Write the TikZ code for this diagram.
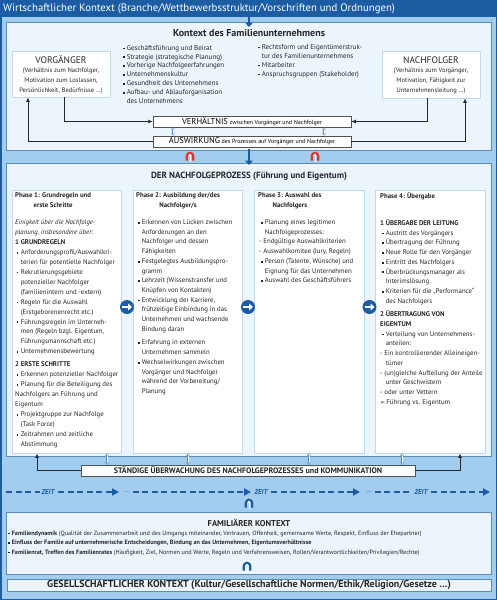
\documentclass[tikz,border=0pt]{standalone}
\usepackage{fontspec}
\setmainfont{PT Sans}
\newfontfamily\dejavu{DejaVu Sans}
\usetikzlibrary{arrows.meta}
\definecolor{dblue}{HTML}{1B5CA3}
\definecolor{bgblue}{HTML}{A2CDEE}
\definecolor{lfill}{HTML}{EDF5FC}
\definecolor{bord}{HTML}{5E8BB5}
\definecolor{pbord}{HTML}{C2DAEE}
\definecolor{redarr}{HTML}{E2332B}
\definecolor{conngray}{HTML}{262626}
\definecolor{txtgray}{HTML}{262626}
\newcommand\bul{\hspace*{1.5pt}\raisebox{0.8pt}{\rule{1.8pt}{1.8pt}}\hspace*{2.3pt}}
\newcommand\ind{\hspace*{5.6pt}}
\newcommand\redarch[2]{%
  \draw[redarr, line width=2.2pt] (#1-3.2,#2+4.5) -- (#1-3.2,#2) arc[start angle=180,end angle=360,radius=3.2] -- (#1+3.2,#2+4.5);
  \draw[white, line width=1pt, -{Triangle[length=2.4pt,width=3pt]}] (#1,#2+5.5) -- (#1,#2-2.5);}
\newcommand\bluearch[2]{%
  \draw[dblue, line width=2.2pt] (#1-3.2,#2+4.5) -- (#1-3.2,#2) arc[start angle=180,end angle=360,radius=3.2] -- (#1+3.2,#2+4.5);
  \draw[white, line width=1pt, -{Triangle[length=2.4pt,width=3pt]}] (#1,#2+5.5) -- (#1,#2-2.5);}
\tikzset{
  ctxbox/.style={draw=bord, fill=lfill, line width=0.8pt, minimum width=485pt, inner sep=0},
  personbox/.style={draw=pbord, fill=white, line width=0.8pt, minimum width=98pt, minimum height=46pt, inner sep=0},
  phasebox/.style={draw=pbord, fill=white, line width=0.8pt, minimum width=109pt, minimum height=263pt, inner sep=0},
  relbox/.style={draw=conngray!80, fill=white, line width=0.5pt, minimum height=11pt, inner sep=0},
  connline/.style={draw=conngray, line width=1pt, -{Latex[length=4.5pt,width=4pt]}},
  dbl/.style={draw=bord, double=white, double distance=0.9pt, line width=0.35pt, {Implies}-{Implies}},
  txt/.style={inner sep=0, text=txtgray, font=\fontsize{6.8}{9.7}\selectfont, align=left, anchor=north west},
  head/.style={inner sep=0, text=txtgray, font=\bfseries\fontsize{6.8}{10}\selectfont, align=center, anchor=north west},
  circarr/.style={circle, fill=dblue, minimum size=14pt, inner sep=0},
  zeitline/.style={dblue, line width=1.8pt, dash pattern=on 6pt off 3.5pt},
  zeittip/.style={zeitline, -{Triangle[length=7pt,width=7pt]}},
  zeitlab/.style={inner sep=1.5pt, text=dblue, font=\bfseries\itshape\fontsize{7}{8}\selectfont},
  downarr/.style={draw=dblue, line width=2.8pt, -{Triangle[length=4.5pt,width=8pt]}},
}
\begin{document}
\begin{tikzpicture}[x=1pt,y=-1pt]
\useasboundingbox (0,0) rectangle (497,600);
% background
\fill[bgblue] (0,0) rectangle (497,600);
\fill[dblue] (0,0) rectangle (497,17);
\draw[dblue, line width=1.5pt] (0.75,0.75) rectangle (496.25,599.25);
\node[anchor=west, inner sep=0, text=white, font=\fontsize{10.8}{12}\selectfont] (wk) at (3,8.5)
  {Wirtschaftlicher Kontext (Branche/Wettbewerbsstruktur/Vorschriften und Ordnungen)};

% ---------- Kontext des Familienunternehmens
\node[ctxbox, minimum height=128pt] (ctx) at (248.5,86) {};
\node[inner sep=0, text=txtgray, font=\bfseries\fontsize{10}{12}\selectfont] (ctxt) at (249,33) {Kontext des Familienunternehmens};

\node[personbox] (vg) at (61,74) {};
\node[inner sep=0, text=txtgray, font=\fontsize{9.5}{11}\selectfont] (vgt) at (61,60) {VORGÄNGER};
\node[inner sep=0, text=txtgray, font=\fontsize{6.5}{10}\selectfont, align=center, anchor=north] (vgs) at (61,67.5)
  {(Verhältnis zum Nachfolger,\\Motivation zum Loslassen,\\Persönlichkeit, Bedürfnisse …)};

\node[personbox, minimum height=47pt] (nf) at (431,74.5) {};
\node[inner sep=0, text=txtgray, font=\fontsize{9.5}{11}\selectfont] (nft) at (431,60) {NACHFOLGER};
\node[inner sep=0, text=txtgray, font=\fontsize{6.5}{10}\selectfont, align=center, anchor=north] (nfs) at (431,67.5)
  {(Verhältnis zum Vorgänger,\\Motivation, Fähigkeit zur\\Unternehmensleitung …)};

\node[txt, font=\fontsize{7}{8.9}\selectfont] (lst1) at (121,45)
  {\bul Geschäftsführung und Beirat\\
   \bul Strategie (strategische Planung)\\
   \bul Vorherige Nachfolgeerfahrungen\\
   \bul Unternehmenskultur\\
   \bul Gesundheit des Unternehmens\\
   \bul Aufbau- und Ablauforganisation\\
   \ind des Unternehmens};
\node[txt, font=\fontsize{7}{9}\selectfont] (lst2) at (256,44)
  {\bul Rechtsform und Eigentümerstruk-\\
   \ind tur des Familienunternehmens\\
   \bul Mitarbeiter\\
   \bul Anspruchsgruppen (Stakeholder)};

\node[relbox, minimum width=198pt] (verh) at (252,121.5)
  {{\fontsize{8.5}{10}\selectfont VERHÄLTNIS}{\fontsize{6}{7}\selectfont\ zwischen Vorgänger und Nachfolger}};
\node[relbox, minimum width=198pt] (ausw) at (252,141.5)
  {{\fontsize{8.5}{10}\selectfont AUSWIRKUNG}{\fontsize{6}{7}\selectfont\ des Prozesses auf Vorgänger und Nachfolger}};
\draw[dbl] ([xshift=-79pt]verh.south) -- ([xshift=-79pt]ausw.north);
\draw[dbl] ([xshift=72pt]verh.south) -- ([xshift=72pt]ausw.north);

\draw[connline] ([xshift=3pt]vg.south) |- (verh.west);
\draw[connline] (ausw.west) -| ([xshift=-33pt]vg.south);
\draw[connline] ([xshift=-4pt]nf.south) |- (verh.east);
\draw[connline] (ausw.east) -| ([xshift=34pt]nf.south);

% ---------- Nachfolgeprozess
\node[ctxbox, minimum height=293pt] (proc) at (248.5,309.5) {};
\redarch{190}{156}
\redarch{315}{156}
\node[inner sep=0, text=txtgray, font=\bfseries\fontsize{9}{11}\selectfont] (proct) at (249,176) {DER NACHFOLGEPROZESS (Führung und Eigentum)};

\node[phasebox] (p1) at (66.5,321.5) {};
\node[phasebox] (p2) at (187.5,321.5) {};
\node[phasebox, minimum width=110pt] (p3) at (309,321.5) {};
\node[phasebox, minimum width=110pt] (p4) at (430,321.5) {};

\node[circarr] (c12) at (127,307) {};
\node[circarr] (c23) at (248,307) {};
\node[circarr] (c34) at (369.5,307) {};
\foreach \c in {c12,c23,c34}
  \draw[white, line width=2pt, -{Triangle[length=4pt,width=7pt]}] ([xshift=-5pt]\c.center) -- ([xshift=5pt]\c.center);

\node[head] (h1) at (15,192.5) {Phase 1: Grundregeln und\\erste Schritte};
\node[head] (h2) at (136,192.5) {Phase 2: Ausbildung der/des\\Nachfolger/s};
\node[head] (h3) at (258,192.5) {Phase 3: Auswahl des\\Nachfolgers};
\node[head] (h4) at (380,192.5) {Phase 4: Übergabe};

\node[txt, font=\fontsize{6.8}{9.95}\selectfont] (t1) at (15,219.5)
  {\textit{Einigkeit über die Nachfolge-}\\
   \textit{planung, insbesondere über:}\\
   \textbf{1 GRUNDREGELN}\\
   \bul Anforderungsprofil/Auswahlkri-\\
   \ind terien für potentielle Nachfolger\\
   \bul Rekrutierungsgebiete\\
   \ind potenzieller Nachfolger\\
   \ind (familienintern und -extern)\\
   \bul Regeln für die Auswahl\\
   \ind (Erstgeborenenrecht etc.)\\
   \bul Führungsregeln im Unterneh-\\
   \ind men (Regeln bzgl. Eigentum,\\
   \ind Führungsmannschaft etc.)\\
   \bul Unternehmensbewertung\\[3pt]
   \textbf{2 ERSTE SCHRITTE}\\
   \bul Erkennen potenzieller Nachfolger\\
   \bul Planung für die Beteiligung des\\
   Nachfolgers an Führung und\\
   Eigentum\\
   \bul Projektgruppe zur Nachfolge\\
   \ind (Task Force)\\
   \bul Zeitrahmen und zeitliche\\
   \ind Abstimmung};

\node[txt] (t2) at (136,219.5)
  {\bul Erkennen von Lücken zwischen\\
   \ind Anforderungen an den\\
   \ind Nachfolger und dessen\\
   \ind Fähigkeiten\\
   \bul Festgelegtes Ausbildungspro-\\
   \ind gramm\\
   \bul Lehrzeit (Wissenstransfer und\\
   \ind Knüpfen von Kontakten)\\
   \bul Entwicklung der Karriere,\\
   \ind frühzeitige Einbindung in das\\
   \ind Unternehmen und wachsende\\
   \ind Bindung daran\\[4pt]
   \bul Erfahrung in externen\\
   \ind Unternehmen sammeln\\
   \bul Wechselwirkungen zwischen\\
   \ind Vorgänger und Nachfolger\\
   \ind während der Vorbereitung/\\
   \ind Planung};

\node[txt] (t3) at (259,219.5)
  {\bul Planung eines legitimen\\
   \ind Nachfolgeprozesses:\\
   - Endgültige Auswahlkriterien\\
   - Auswahlkomitee (Jury, Regeln)\\
   \bul Person (Talente, Wünsche) und\\
   \ind Eignung für das Unternehmen\\
   \bul Auswahl des Geschäftsführers};

\node[txt] (t4) at (380,219.5)
  {\textbf{1 ÜBERGABE DER LEITUNG}\\
   \bul Austritt des Vorgängers\\
   \bul Übertragung der Führung\\
   \bul Neue Rolle für den Vorgänger\\
   \bul Eintritt des Nachfolgers\\
   \bul Überbrückungsmanager als\\
   \ind Interimslösung\\
   \bul Kriterien für die „Performance“\\
   \ind des Nachfolgers\\[4pt]
   \textbf{2 ÜBERTRAGUNG VON}\\
   \textbf{EIGENTUM}\\
   \bul Verteilung von Unternehmens-\\
   \ind anteilen:\\
   - Ein kontrollierender Alleineigen-\\
   \ind tümer\\
   - (un)gleiche Aufteilung der Anteile\\
   \ind unter Geschwistern\\
   - oder unter Vettern\\
   {\dejavu\fontsize{6}{9}\selectfont ➢}\,Führung vs. Eigentum};

% ---------- Ständige Überwachung
\node[relbox, minimum width=334pt, text=txtgray, font=\bfseries\fontsize{8}{10}\selectfont] (st) at (248,470.5)
  {STÄNDIGE ÜBERWACHUNG DES NACHFOLGEPROZESSES und KOMMUNIKATION};
\draw[dbl] ([xshift=40.5pt]p1.south) -- ([xshift=40.5pt]p1.south |- st.north);
\draw[dbl] ([xshift=0.5pt]p2.south) -- ([xshift=0.5pt]p2.south |- st.north);
\draw[dbl] ([xshift=0pt]p3.south) -- ([xshift=0pt]p3.south |- st.north);
\draw[dbl] ([xshift=-28pt]p4.south) -- ([xshift=-28pt]p4.south |- st.north);
\draw[connline] (st.west) -| ([xshift=-29.5pt]p1.south);
\draw[connline] (st.east) -| ([xshift=30pt]p4.south);

% ---------- ZEIT
\node[zeitlab] (z1) at (48,492) {ZEIT};
\node[zeitlab] (z2) at (261,492) {ZEIT};
\node[zeitlab] (z3) at (421,492) {ZEIT};
\node[inner sep=1pt, text=dblue, font=\fontsize{7}{8}\selectfont] (d1) at (127,492) {…};
\node[inner sep=1pt, text=dblue, font=\fontsize{7}{8}\selectfont] (d2) at (369,492) {…};
\coordinate (zs) at (6,492);
\coordinate (a1) at (119,492);
\coordinate (a2) at (251,492);
\coordinate (a3) at (360,492);
\coordinate (a4) at (490,492);
\draw[zeitline] (zs) -- (z1.west);
\draw[zeittip] ([xshift=2pt]z1.east) -- (a1);
\draw[zeittip] ([xshift=2pt]d1.east) -- (a2);
\draw[zeittip] ([xshift=2pt]z2.east) -- (a3);
\draw[zeitline] ([xshift=2pt]d2.east) -- (z3.west);
\draw[zeittip] ([xshift=2pt]z3.east) -- (a4);

% ---------- Familiärer Kontext
\node[ctxbox, minimum height=62pt] (fam) at (248.5,543) {};
\bluearch{249}{503}
\node[inner sep=0, text=txtgray, font=\bfseries\fontsize{8.5}{10}\selectfont] (famt) at (249,522.5) {FAMILIÄRER KONTEXT};
\node[txt, font=\fontsize{6.2}{9.5}\selectfont] (famb) at (6,530.5)
  {\bul \textbf{Familiendynamik} (Qualität der Zusammenarbeit und des Umgangs miteinander, Vertrauen, Offenheit, gemeinsame Werte, Respekt, Einfluss der Ehepartner)\\
   \bul \textbf{Einfluss der Familie auf unternehmerische Entscheidungen, Bindung an das Unternehmen, Eigentumsverhältnisse}\\
   \bul \textbf{Familienrat, Treffen des Familienrates} (Häufigkeit, Ziel, Normen und Werte, Regeln und Verfahrensweisen, Rollen/Verantwortlichkeiten/Privilegien/Rechte)};
\bluearch{247}{566}

% ---------- Gesellschaftlicher Kontext
\node[ctxbox, minimum width=484pt, minimum height=12pt, text=txtgray, font=\bfseries\fontsize{10}{11}\selectfont] (ges) at (249,585)
  {GESELLSCHAFTLICHER KONTEXT (Kultur/Gesellschaftliche Normen/Ethik/Religion/Gesetze …)};

% ---------- blue down arrows (drawn last)
\coordinate (ar1s) at (249,16);
\coordinate (ar1e) at (249,27);
\draw[downarr] (ar1s) -- (ar1e);
\coordinate (ar2s) at (249,149);
\coordinate (ar2e) at (249,165);
\draw[downarr] (ar2s) -- (ar2e);
\end{tikzpicture}
\end{document}
